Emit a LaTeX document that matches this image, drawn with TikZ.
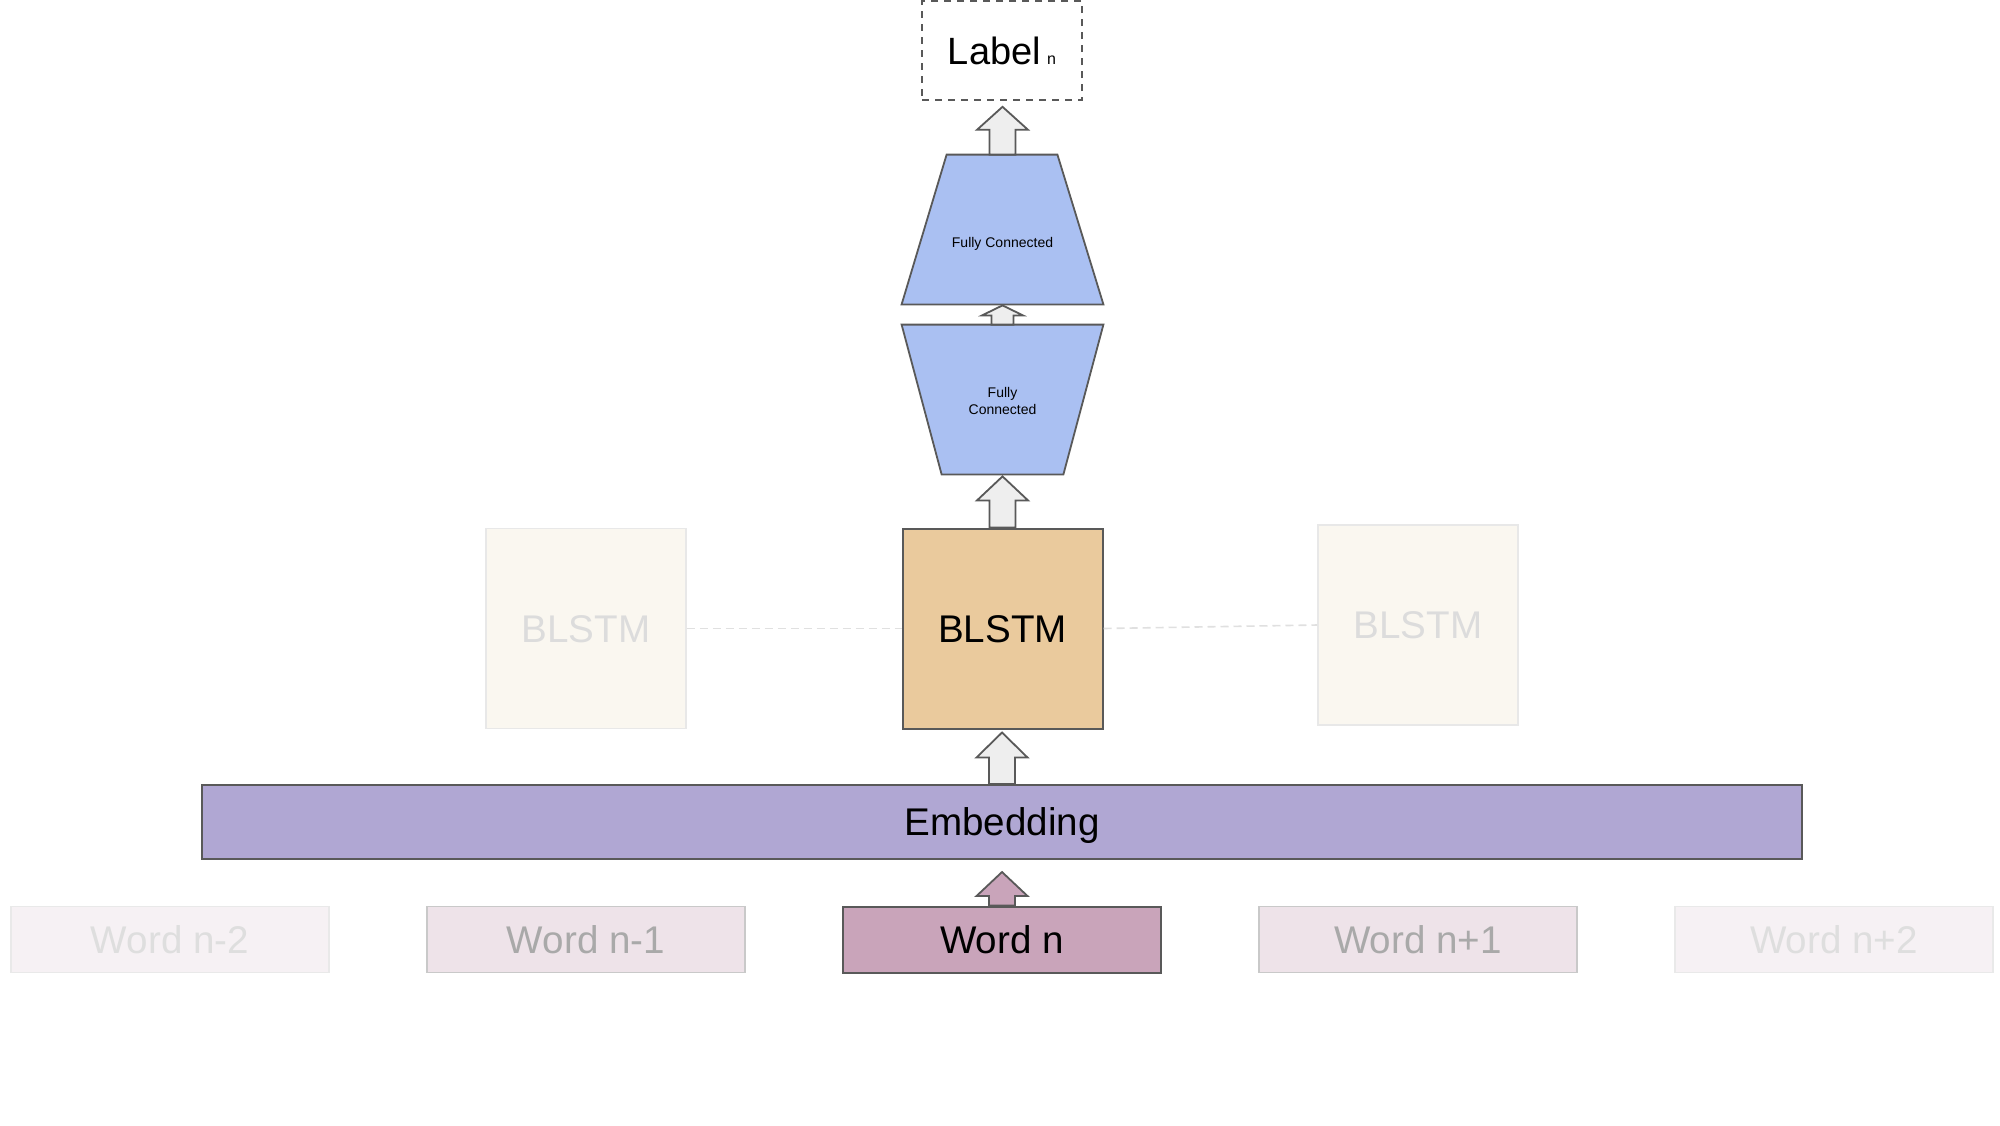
\documentclass[tikz,border=0pt]{standalone}
\usepackage{fontspec}
\setmainfont{Liberation Sans}
\usetikzlibrary{calc,backgrounds}
\definecolor{edge}{HTML}{595959}
\definecolor{fcfill}{HTML}{AAC0F2}
\definecolor{blfill}{HTML}{EACA9D}
\definecolor{blfade}{HTML}{FAF7F0}
\definecolor{blfadeedge}{HTML}{E8E8E8}
\definecolor{blfadetext}{HTML}{DCDCDC}
\definecolor{embfill}{HTML}{B0A7D3}
\definecolor{wordfill}{HTML}{C9A4BA}
\definecolor{wordfadeA}{HTML}{EEE3E9}
\definecolor{wordfadeAedge}{HTML}{C9C9C9}
\definecolor{wordfadeAtext}{HTML}{A9A9A9}
\definecolor{wordfadeB}{HTML}{F6F1F4}
\definecolor{wordfadeBedge}{HTML}{E9E9E9}
\definecolor{wordfadeBtext}{HTML}{DEDEDE}
\definecolor{arrfill}{HTML}{EEEEEE}
\definecolor{dashline}{HTML}{E0E0E0}
\newcommand\bigtext{\fontsize{19.3}{23}\selectfont}
\newcommand\blockarrow[7]{%
  \draw[#1] let \p1=(#2.north), \p2=(#3.south) in
    (\x1-#7,\y1) -- (\x1-#7,\y2-#4-#5) -- (\x1-#6,\y2-#4-#5) -- (\x1,\y2-#4)
    -- (\x1+#6,\y2-#4-#5) -- (\x1+#7,\y2-#4-#5) -- (\x1+#7,\y1) -- cycle;}
\tikzset{
  box/.style={rectangle, draw=edge, line width=1pt, inner sep=0pt, font=\bigtext, text height=13.8pt, text depth=0pt},
  blstmmain/.style={box, fill=blfill, minimum width=100pt, minimum height=100pt},
  blstmfade/.style={box, draw=blfadeedge, line width=0.8pt, fill=blfade, text=blfadetext, minimum width=100pt, minimum height=100pt},
  wordmain/.style={box, fill=wordfill, minimum width=159pt, minimum height=33pt},
  wordfadeone/.style={box, draw=wordfadeAedge, line width=0.8pt, fill=wordfadeA, text=wordfadeAtext, minimum width=159pt, minimum height=33pt},
  wordfadetwo/.style={box, draw=wordfadeBedge, line width=0.8pt, fill=wordfadeB, text=wordfadeBtext, minimum width=159pt, minimum height=33pt},
  fcnode/.style={rectangle, inner sep=0pt, minimum width=100.5pt, minimum height=74.5pt, align=center, font=\fontsize{7}{8.3}\selectfont},
  trap/.style={draw=edge, line width=0.9pt, fill=fcfill},
  arr/.style={draw=edge, line width=0.9pt, fill=arrfill},
  pinkarr/.style={draw=edge, line width=0.9pt, fill=wordfill},
  link/.style={draw=dashline, line width=0.8pt, dash pattern=on 4pt off 2.5pt},
}
\begin{document}
\begin{tikzpicture}[x=0.5pt, y=-0.5pt]
\begin{pgfonlayer}{background}
\fill[white] (0,0) rectangle (2000,1125);
\end{pgfonlayer}
\useasboundingbox (0,0) rectangle (2000,1125);

% label
\node[rectangle, draw=edge, line width=0.8pt, dash pattern=on 3.5pt off 3pt, inner sep=0pt,
  minimum width=80pt, minimum height=49.5pt, font=\fontsize{19}{22}\selectfont,
  text height=13.6pt, text depth=0pt]
  (label) at (1002,50.5) {Label\,{\fontsize{8}{9}\selectfont n}};

% fully connected layers
\node[fcnode] (fc1) at (1002.5,229.5) {\raisebox{-8.75pt}[0pt][0pt]{Fully Connected}};
\node[fcnode] (fc2) at (1002.5,399.5) {\rule{0pt}{6.5pt}Fully\\Connected};
\begin{pgfonlayer}{background}
\path[trap] (fc1.south west) -- ($(fc1.north west)+(45,0)$) -- ($(fc1.north east)+(-46,0)$) -- (fc1.south east) -- cycle;
\path[trap] (fc2.north west) -- ($(fc2.south west)+(40,0)$) -- ($(fc2.south east)+(-40,0)$) -- (fc2.north east) -- cycle;
\end{pgfonlayer}

% BLSTMs
\node[blstmmain] (bl) at (1002.5,628.5) {BLSTM};
\node[blstmfade] (blL) at (586,628.5) {BLSTM};
\node[blstmfade] (blR) at (1418,625) {BLSTM};
\draw[link] (blL.east) -- (bl.west);
\draw[link] (bl.east) -- (blR.west);

% embedding
\node[box, fill=embfill, minimum width=800pt, minimum height=37pt] (emb) at (1002,822) {Embedding};

% words
\node[wordfadetwo] (w1) at (170,939.5) {Word n-2};
\node[wordfadeone] (w2) at (586,939.5) {Word n-1};
\node[wordmain]    (w3) at (1002,939.5) {Word n};
\node[wordfadeone] (w4) at (1418,939.5) {Word n+1};
\node[wordfadetwo] (w5) at (1834,939.5) {Word n+2};

% block arrows
\blockarrow{pinkarr}{w3}{emb}{6pt}{12pt}{12.75pt}{6.5pt}
\blockarrow{arr}{emb}{bl}{1.5pt}{12.5pt}{12.75pt}{6.5pt}
\blockarrow{arr}{bl}{fc2}{1pt}{12pt}{12.75pt}{6.5pt}
\blockarrow{arr}{fc2}{fc1}{0.5pt}{5pt}{10.25pt}{5.5pt}
\blockarrow{arr}{fc1}{label}{3pt}{11.5pt}{12.75pt}{6.5pt}
\end{tikzpicture}
\end{document}
